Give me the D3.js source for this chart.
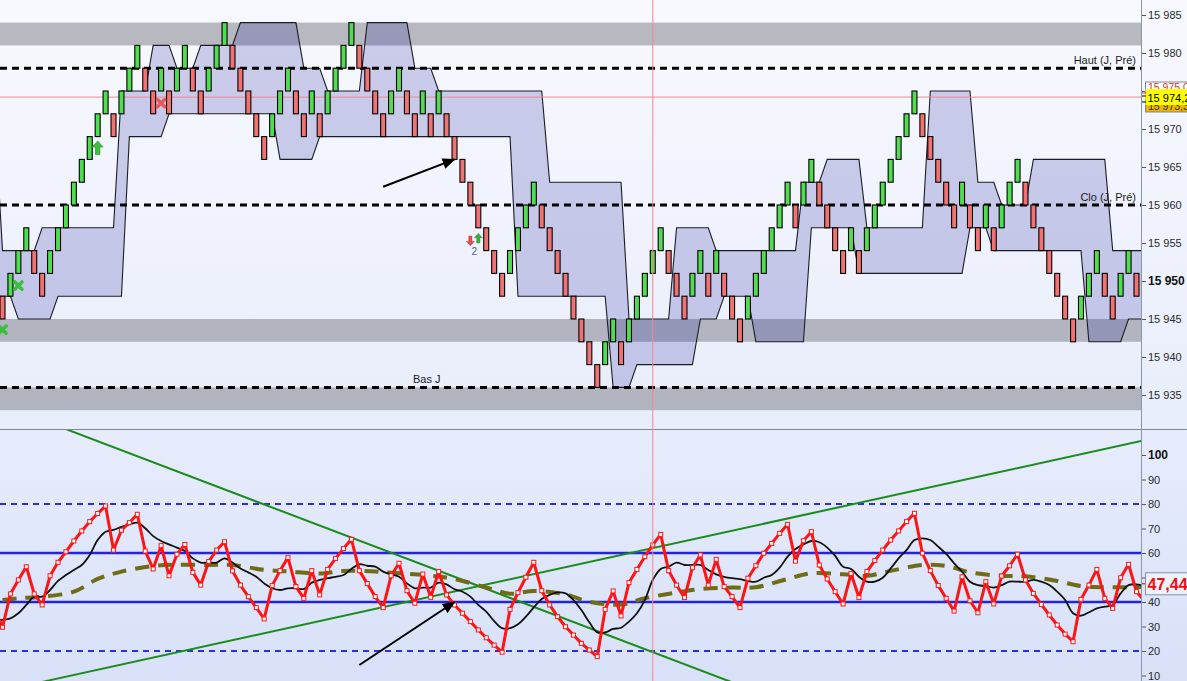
<!DOCTYPE html>
<html>
<head>
<meta charset="utf-8">
<script src="https://cdn.jsdelivr.net/npm/d3@7/dist/d3.min.js"></script>
<style>
  html, body { margin: 0; padding: 0; background: #fff; overflow: hidden; }
  svg { display: block; font-family: "Liberation Sans", Arial, sans-serif; }
</style>
</head>
<body>
<svg id="chart" width="1187" height="681"></svg>
<script>
// ----------------- DATA -----------------

// renko bricks, 3 points each: lower edge and colour (G up / R down)
var brickLow = [
  15945, 15948, 15951, 15954, 15951, 15948, 15951, 15954, 15957, 15960,
  15963, 15966, 15969, 15972, 15969, 15972, 15975, 15978, 15975, 15972,
  15975, 15972, 15975, 15978, 15975, 15972, 15975, 15978, 15981, 15978,
  15975, 15972, 15969, 15966, 15969, 15972, 15975, 15972, 15969, 15972,
  15969, 15972, 15975, 15978, 15981, 15978, 15975, 15972, 15969, 15972,
  15975, 15972, 15969, 15972, 15969, 15972, 15969, 15966, 15963, 15960,
  15957, 15954, 15951, 15948, 15951, 15954, 15957, 15960, 15957, 15954,
  15951, 15948, 15945, 15942, 15939, 15936, 15939, 15942, 15939, 15942,
  15945, 15948, 15951, 15954, 15951, 15948, 15945, 15948, 15951, 15948,
  15951, 15948, 15945, 15942, 15945, 15948, 15951, 15954, 15957, 15960,
  15957, 15960, 15963, 15960, 15957, 15954, 15951, 15954, 15951, 15954,
  15957, 15960, 15963, 15966, 15969, 15972, 15969, 15966, 15963, 15960,
  15957, 15960, 15957, 15954, 15957, 15954, 15957, 15960, 15963, 15960,
  15957, 15954, 15951, 15948, 15945, 15942, 15945, 15948, 15951, 15948,
  15945, 15948, 15951, 15948
];
var brickColor = ("RGGGRRGGGG" + "GGGGRGGGRR" + "GRGGRRGGGR" + "RRRRGGGRRG" +
  "RGGGGRRRRG" + "GRRGRGRRRR" + "RRRRGGGGRR" + "RRRRRRGGRG" + "GGGGRRRGGR" +
  "GRRRGGGGGG" + "RGGRRRRGRG" + "GGGGGGRRRR" + "RGRRGRGGGR" + "RRRRRRGGGR" + "RGGR").split('');
var brickSize = 3;

// channel around the bricks, [first brick index, level]
var bandUpperSteps = [[-1, 15972], [0, 15954], [5, 15957], [15, 15975], [19, 15981], [22, 15978],
  [25, 15981], [30, 15984], [38, 15978], [41, 15975], [46, 15984], [52, 15978], [55, 15975],
  [69, 15963], [79, 15945], [85, 15957], [90, 15954], [101, 15963], [104, 15966], [109, 15957],
  [117, 15975], [123, 15963], [126, 15960], [130, 15966], [140, 15954]];
var bandLowerSteps = [[-1, 15948], [2, 15945], [7, 15948], [16, 15969], [21, 15972], [35, 15966],
  [40, 15969], [65, 15948], [77, 15936], [80, 15939], [88, 15945], [91, 15948], [95, 15942],
  [102, 15957], [108, 15951], [122, 15957], [125, 15954], [137, 15942], [142, 15945]];
var bandLastIndex = 144;

// grey zones and reference lines
var zones = [[15981, 15984], [15942, 15945], [15933, 15936]];
var refLevels = [15978, 15960, 15936];
var refLabels = ['Haut (J, Pré)', 'Clo (J, Pré)', 'Bas J'];
var lastPrice = 15974.2;
var cursorIndex = 82;

// signals on the price chart
var signalIndex = [0, 2, 12, 20, 59, 60];
var signalPrice = [15943.6, 15949.4, 15967.5, 15973.4, 15955.3, 15955.6];
var signalType = ['buyX', 'buyX', 'up', 'sellX', 'downSmall', 'upSmall'];

var priceTicks = [15935, 15940, 15945, 15950, 15955, 15960, 15965, 15970, 15975, 15980, 15985];

// oscillator, one value per brick starting at index -1
var rsiStart = -1;
var rsi = [36.6,
  29.7, 43.3, 49.0, 54.4, 43.3, 38.8, 50.7, 56.2, 60.5, 64.9,
  69.0, 72.8, 76.1, 79.2, 61.2, 69.3, 72.4, 75.8, 60.8, 53.5,
  63.0, 50.7, 59.5, 63.5, 52.1, 46.9, 56.5, 61.2, 64.6, 52.7,
  46.9, 42.2, 37.7, 33.1, 46.7, 52.8, 58.1, 46.3, 41.5, 52.8,
  42.9, 53.3, 57.8, 61.8, 65.6, 52.8, 47.5, 42.2, 37.7, 50.7,
  55.8, 44.6, 39.5, 51.4, 41.9, 52.4, 42.9, 38.8, 35.4, 32.0,
  28.6, 25.4, 22.4, 19.5, 37.0, 43.8, 50.1, 56.2, 44.6, 38.8,
  34.0, 29.9, 26.5, 23.1, 20.4, 17.7, 37.0, 44.5, 34.3, 47.9,
  53.3, 58.5, 63.3, 67.6, 52.8, 46.9, 41.8, 54.0, 59.2, 46.9,
  57.4, 46.3, 42.2, 37.7, 49.7, 54.8, 59.9, 63.9, 68.0, 71.7,
  56.7, 65.0, 68.7, 55.1, 49.4, 44.2, 39.2, 51.6, 41.8, 52.4,
  56.9, 61.2, 65.3, 69.0, 72.8, 76.2, 59.9, 52.8, 46.7, 41.5,
  36.3, 50.3, 40.5, 35.6, 48.3, 39.2, 50.6, 54.8, 59.5, 49.0,
  43.5, 39.0, 34.7, 30.6, 26.9, 23.8, 41.1, 46.9, 53.3, 41.5,
  37.4, 49.9, 55.4, 44.2, 40.5];
var rsiFast = [32.5,
  32.7, 33.3, 35.4, 38.8, 42.2, 42.2, 44.9, 48.6, 51.0, 53.1,
  55.1, 59.2, 65.3, 68.7, 69.4, 70.7, 71.7, 72.4, 70.1, 66.9,
  64.9, 63.5, 62.2, 60.8, 57.8, 56.1, 56.1, 56.1, 57.8, 56.1,
  53.7, 52.1, 50.3, 47.6, 45.6, 44.9, 45.6, 45.6, 45.3, 47.9,
  49.0, 49.7, 50.3, 51.0, 53.5, 55.4, 54.8, 54.4, 52.4, 51.3,
  50.3, 47.6, 45.6, 45.9, 45.9, 47.9, 47.2, 45.2, 44.2, 42.2,
  38.8, 36.1, 32.2, 29.3, 29.3, 30.9, 34.0, 37.8, 41.2, 42.9,
  43.9, 43.5, 40.8, 36.7, 31.7, 27.6, 27.6, 29.0, 29.5, 32.0,
  35.4, 40.8, 49.0, 53.5, 54.4, 56.1, 55.1, 55.1, 55.1, 53.1,
  51.3, 50.3, 49.7, 49.3, 48.6, 48.3, 49.9, 51.0, 54.0, 58.5,
  61.6, 63.5, 64.9, 64.4, 62.2, 58.8, 54.4, 53.5, 50.3, 48.3,
  48.3, 49.9, 53.7, 57.8, 61.2, 65.3, 66.0, 65.3, 62.6, 59.6,
  55.8, 52.4, 48.3, 46.9, 46.5, 45.9, 46.9, 48.3, 48.3, 48.3,
  49.0, 48.3, 46.9, 44.2, 40.8, 35.4, 34.4, 35.8, 37.4, 38.1,
  38.8, 43.5, 46.9, 47.2, 46.5];
var rsiSlowIndex = [0, 2, 5, 9, 12, 15, 19, 22, 26, 29, 33, 36, 40, 43, 47, 50, 54, 57, 61, 64, 67,
  71, 74, 78, 81, 85, 88, 92, 95, 99, 102, 106, 109, 112, 116, 119, 122, 126, 129, 133, 136, 140, 144];
var rsiSlow = [40.8, 41.5, 42.2, 44.2, 49.4, 52.4, 54.7, 55.2, 55.1, 55.1, 53.1, 52.5, 51.6, 52.7,
  52.4, 51.7, 50.7, 49.4, 45.9, 43.4, 44.5, 43.1, 40.1, 39.0, 41.5, 43.9, 45.3, 45.9, 46.0, 49.4,
  51.7, 51.3, 50.7, 52.7, 55.1, 54.7, 52.1, 50.7, 50.5, 48.6, 46.5, 46.0, 46.1];
var rsiSolidLevels = [40, 60];
var rsiDashedLevels = [20, 80];
var rsiTicks = [10, 20, 30, 40, 50, 60, 70, 80, 90, 100];
var rsiLast = 47.44;

// trend lines on the oscillator, [index, value] pairs
var trendLines = [[[7, 111.8], [93, 6.0]], [[5, 7.4], [144, 106.0]]];

// hand drawn arrows: [from index, from value], [to index, to value]
var priceArrow = [[48, 15962.4], [57, 15966.0]];
var rsiArrow = [[45, 14.3], [57, 40.0]];

// ----------------- LAYOUT -----------------

var W = 1187, H = 681;
var AXIS_X = 1141;
var TOP_H = 429.5;
var BOT_Y = 430;

var x = d3.scaleLinear().domain([0, 143]).range([2.5, 1136.5]);
var yP = d3.scaleLinear().domain([15935, 15985]).range([395, 15]);
var yR = d3.scaleLinear().domain([20, 80]).range([651, 504]);

var svg = d3.select('#chart');
var defs = svg.append('defs');

function vGrad(id, c0, c1) {
    var g = defs.append('linearGradient').attr('id', id)
        .attr('x1', 0).attr('y1', 0).attr('x2', 0).attr('y2', 1);
    g.append('stop').attr('offset', '0%').attr('stop-color', c0);
    g.append('stop').attr('offset', '100%').attr('stop-color', c1);
}
vGrad('bgTop', '#f8f9fe', '#e8edfb');
vGrad('bgBot', '#e7ecfc', '#d8e1f8');

defs.append('clipPath').attr('id', 'clipTop').append('rect')
    .attr('x', 0).attr('y', 0).attr('width', AXIS_X).attr('height', TOP_H);
defs.append('clipPath').attr('id', 'clipBot').append('rect')
    .attr('x', 0).attr('y', BOT_Y).attr('width', AXIS_X).attr('height', H - BOT_Y);

defs.append('marker').attr('id', 'arrowHead')
    .attr('viewBox', '0 0 12 10').attr('refX', 11).attr('refY', 5)
    .attr('markerWidth', 13).attr('markerHeight', 11)
    .attr('markerUnits', 'userSpaceOnUse').attr('orient', 'auto')
    .append('path').attr('d', 'M0,0 L12,5 L0,10 Z').attr('fill', '#000');

svg.append('rect').attr('x', 0).attr('y', 0).attr('width', W).attr('height', BOT_Y).attr('fill', 'url(#bgTop)');
svg.append('rect').attr('x', 0).attr('y', BOT_Y).attr('width', W).attr('height', H - BOT_Y).attr('fill', 'url(#bgBot)');

// ----------------- PRICE PANEL -----------------

var priceG = svg.append('g').attr('clip-path', 'url(#clipTop)');

priceG.selectAll('rect.zone').data(zones).enter().append('rect')
    .attr('class', 'zone')
    .attr('x', 0).attr('width', AXIS_X)
    .attr('y', function(d) { return yP(d[1]); })
    .attr('height', function(d) { return yP(d[0]) - yP(d[1]); })
    .attr('fill', '#8c8e96').attr('opacity', 0.6);

function expandSteps(steps, lastK) {
    var out = [];
    steps.forEach(function(s, i) {
        var end = i + 1 < steps.length ? steps[i + 1][0] : lastK + 1;
        for (var k = s[0]; k < end; k++) out.push({k: k, v: s[1]});
    });
    return out;
}
var upper = expandSteps(bandUpperSteps, bandLastIndex);
var lower = expandSteps(bandLowerSteps, bandLastIndex);
var band = upper.map(function(d, i) { return {k: d.k, hi: d.v, lo: lower[i].v}; });

priceG.append('path').datum(band)
    .attr('d', d3.area().x(function(d) { return x(d.k); })
        .y0(function(d) { return yP(d.lo); }).y1(function(d) { return yP(d.hi); }))
    .attr('fill', 'rgba(30,32,155,0.2)');
[upper, lower].forEach(function(edge) {
    priceG.append('path').datum(edge)
        .attr('d', d3.line().x(function(d) { return x(d.k); }).y(function(d) { return yP(d.v); }))
        .attr('fill', 'none').attr('stroke', '#1c1c24').attr('stroke-width', 1.1);
});

// reference levels
priceG.selectAll('line.ref').data(refLevels).enter().append('line')
    .attr('class', 'ref')
    .attr('x1', 0).attr('x2', AXIS_X)
    .attr('y1', function(d) { return yP(d); }).attr('y2', function(d) { return yP(d); })
    .attr('stroke', '#000').attr('stroke-width', 3).attr('stroke-dasharray', '7,5');

priceG.append('line')
    .attr('x1', 0).attr('x2', AXIS_X)
    .attr('y1', yP(lastPrice)).attr('y2', yP(lastPrice))
    .attr('stroke', '#ec8c90').attr('stroke-width', 1);

// bricks
var bricks = brickLow.map(function(lo, i) { return {k: i, lo: lo, hi: lo + brickSize, c: brickColor[i]}; });
priceG.selectAll('rect.brick').data(bricks).enter().append('rect')
    .attr('class', 'brick')
    .attr('x', function(d) { return x(d.k) - 2.5; })
    .attr('width', 5)
    .attr('y', function(d) { return yP(d.hi); })
    .attr('height', function(d) { return yP(d.lo) - yP(d.hi); })
    .attr('fill', function(d) { return d.c === 'G' ? '#52dc52' : '#f07272'; })
    .attr('stroke', '#000').attr('stroke-width', 1.1);

// signals
var crossPath = 'M-3.6,-3.6 L3.6,3.6 M3.6,-3.6 L-3.6,3.6';
var upPath = 'M0,-7 L5.5,-1 L2.2,-1 L2.2,6.5 L-2.2,6.5 L-2.2,-1 L-5.5,-1 Z';
signalIndex.forEach(function(k, i) {
    var t = signalType[i];
    var g = priceG.append('g').attr('transform', 'translate(' + x(k) + ',' + yP(signalPrice[i]) + ')');
    if (t === 'buyX' || t === 'sellX') {
        g.append('path').attr('d', crossPath)
            .attr('stroke', t === 'buyX' ? '#3cbf3c' : '#e65a5a')
            .attr('stroke-width', 3.6).attr('stroke-linecap', 'round');
    } else if (t === 'up') {
        g.append('path').attr('d', upPath).attr('fill', '#3fbf3f').attr('stroke', '#2a8f2a').attr('stroke-width', 0.6);
    } else if (t === 'upSmall') {
        g.append('path').attr('d', upPath).attr('transform', 'scale(0.72)')
            .attr('fill', '#2fb42f').attr('stroke', '#23862a').attr('stroke-width', 0.6);
    } else {
        g.append('path').attr('d', upPath).attr('transform', 'scale(0.72) rotate(180)')
            .attr('fill', '#e84a4a').attr('stroke', '#b03030').attr('stroke-width', 0.6);
    }
});
priceG.append('text')
    .attr('x', x(59.5)).attr('y', yP(15955.3) + 14)
    .attr('text-anchor', 'middle').attr('font-size', 10).attr('fill', '#4d5a8c')
    .text('2');

// labels of the reference levels
var refG = svg.append('g').attr('font-size', 11).attr('fill', '#1a1a1a');
refG.append('text').attr('x', 1136).attr('y', yP(refLevels[0]) - 4).attr('text-anchor', 'end').text(refLabels[0]);
refG.append('text').attr('x', 1136).attr('y', yP(refLevels[1]) - 4).attr('text-anchor', 'end').text(refLabels[1]);
refG.append('text').attr('x', 413).attr('y', yP(refLevels[2]) - 4).text(refLabels[2]);

// arrow annotation
priceG.append('line')
    .attr('x1', x(priceArrow[0][0])).attr('y1', yP(priceArrow[0][1]))
    .attr('x2', x(priceArrow[1][0])).attr('y2', yP(priceArrow[1][1]))
    .attr('stroke', '#000').attr('stroke-width', 2).attr('marker-end', 'url(#arrowHead)');

// price axis
var fmtPrice = function(d) { return d3.format(',')(d).replace(',', ' '); };
var pAxis = svg.append('g')
    .attr('transform', 'translate(' + AXIS_X + ',0)')
    .call(d3.axisRight(yP).tickValues(priceTicks).tickSize(5).tickPadding(2).tickFormat(fmtPrice));
pAxis.select('.domain').remove();
pAxis.selectAll('line').attr('stroke', '#556');
pAxis.selectAll('text').attr('font-size', 11).attr('fill', '#2a2a2a')
    .attr('font-family', '"Liberation Sans", Arial, sans-serif');
pAxis.selectAll('.tick').filter(function(d) { return d === 15950; })
    .select('text').attr('font-weight', 'bold').attr('font-size', 12).attr('fill', '#111');

// last price labels (stacked, the yellow one on top)
var lbl = svg.append('g').attr('font-size', 10.5);
lbl.append('rect').attr('x', 1145.5).attr('y', 98).attr('width', 45).attr('height', 14).attr('fill', '#f0b400').attr('stroke', '#7a8a9a');
lbl.append('text').attr('x', 1148).attr('y', 110).attr('fill', '#333').text('15 973,3');
lbl.append('rect').attr('x', 1145.5).attr('y', 82).attr('width', 45).attr('height', 12).attr('fill', '#ffffff').attr('stroke', '#7a8a9a');
lbl.append('text').attr('x', 1148).attr('y', 91).attr('fill', '#e03030').text('15 975,0');
lbl.append('rect').attr('x', 1145.5).attr('y', yP(lastPrice) - 8).attr('width', 45).attr('height', 16).attr('fill', '#ffff00');
lbl.append('text').attr('x', 1147.5).attr('y', yP(lastPrice) + 4.5).attr('fill', '#000').attr('font-size', 11).text('15 974,2');
[[93, '#e03030'], [96, '#000'], [102, '#000']].forEach(function(t) {
    lbl.append('line').attr('x1', AXIS_X).attr('x2', 1146).attr('y1', t[0]).attr('y2', t[0])
        .attr('stroke', t[1]).attr('stroke-width', 1);
});

// ----------------- OSCILLATOR PANEL -----------------

var oscG = svg.append('g').attr('clip-path', 'url(#clipBot)');

oscG.selectAll('line.lvl').data(rsiSolidLevels).enter().append('line')
    .attr('class', 'lvl')
    .attr('x1', 0).attr('x2', AXIS_X)
    .attr('y1', function(d) { return yR(d); }).attr('y2', function(d) { return yR(d); })
    .attr('stroke', '#2424dc').attr('stroke-width', 2.5);
oscG.selectAll('line.lvlDash').data(rsiDashedLevels).enter().append('line')
    .attr('class', 'lvlDash')
    .attr('x1', 0).attr('x2', AXIS_X)
    .attr('y1', function(d) { return yR(d); }).attr('y2', function(d) { return yR(d); })
    .attr('stroke', '#2e2ee0').attr('stroke-width', 2).attr('stroke-dasharray', '6,5');

trendLines.forEach(function(t) {
    oscG.append('line')
        .attr('x1', x(t[0][0])).attr('y1', yR(t[0][1]))
        .attr('x2', x(t[1][0])).attr('y2', yR(t[1][1]))
        .attr('stroke', '#1a8c1a').attr('stroke-width', 2);
});

var slowPts = rsiSlowIndex.map(function(k, i) { return [x(k), yR(rsiSlow[i])]; });
oscG.append('path').datum(slowPts)
    .attr('d', d3.line().curve(d3.curveCatmullRom))
    .attr('fill', 'none').attr('stroke', '#6e6c14').attr('stroke-width', 4)
    .attr('stroke-dasharray', '14,9');

var fastPts = rsiFast.map(function(v, i) { return [x(i + rsiStart), yR(v)]; });
oscG.append('path').datum(fastPts)
    .attr('d', d3.line().curve(d3.curveCatmullRom))
    .attr('fill', 'none').attr('stroke', '#111').attr('stroke-width', 1.8);

var rsiPts = rsi.map(function(v, i) { return [x(i + rsiStart), yR(v)]; });
oscG.append('path').datum(rsiPts)
    .attr('d', d3.line())
    .attr('fill', 'none').attr('stroke', '#ff1414').attr('stroke-width', 3)
    .attr('stroke-linejoin', 'round');
oscG.selectAll('rect.pt').data(rsiPts).enter().append('rect')
    .attr('class', 'pt')
    .attr('x', function(d) { return d[0] - 2; }).attr('y', function(d) { return d[1] - 2; })
    .attr('width', 4).attr('height', 4)
    .attr('fill', '#fff').attr('stroke', '#ff1414').attr('stroke-width', 1);

oscG.append('line')
    .attr('x1', x(rsiArrow[0][0])).attr('y1', yR(rsiArrow[0][1]))
    .attr('x2', x(rsiArrow[1][0])).attr('y2', yR(rsiArrow[1][1]))
    .attr('stroke', '#000').attr('stroke-width', 2).attr('marker-end', 'url(#arrowHead)');

var rAxis = svg.append('g')
    .attr('transform', 'translate(' + AXIS_X + ',0)')
    .call(d3.axisRight(yR).tickValues(rsiTicks).tickSize(5).tickPadding(2));
rAxis.select('.domain').remove();
rAxis.selectAll('line').attr('stroke', '#556');
rAxis.selectAll('text').attr('font-size', 11).attr('fill', '#2a2a2a')
    .attr('font-family', '"Liberation Sans", Arial, sans-serif');
rAxis.selectAll('.tick').filter(function(d) { return d === 100; })
    .select('text').attr('font-weight', 'bold').attr('font-size', 12).attr('fill', '#111');

// current oscillator value
svg.append('line').attr('x1', AXIS_X).attr('x2', 1146).attr('y1', yR(rsiLast)).attr('y2', yR(rsiLast))
    .attr('stroke', '#e02020').attr('stroke-width', 1.2);
svg.append('rect').attr('x', 1145.5).attr('y', yR(rsiLast) - 11).attr('width', 45).attr('height', 22)
    .attr('fill', '#eef2fc').attr('stroke', '#8293a8');
svg.append('text').attr('x', 1147.5).attr('y', yR(rsiLast) + 6)
    .attr('font-size', 16).attr('font-weight', 'bold').attr('fill', '#f01010')
    .text(d3.format('.2f')(rsiLast).replace('.', ','));

// ----------------- FRAME -----------------

svg.append('line').attr('x1', AXIS_X + 0.5).attr('x2', AXIS_X + 0.5).attr('y1', 0).attr('y2', H)
    .attr('stroke', '#8a96a6').attr('stroke-width', 1);
svg.append('line').attr('x1', 0).attr('x2', W).attr('y1', TOP_H).attr('y2', TOP_H)
    .attr('stroke', '#7d8a98').attr('stroke-width', 1.2);
svg.append('line').attr('x1', x(cursorIndex)).attr('x2', x(cursorIndex)).attr('y1', 0).attr('y2', H)
    .attr('stroke', '#f08a8a').attr('stroke-width', 1);
</script>
</body>
</html>
